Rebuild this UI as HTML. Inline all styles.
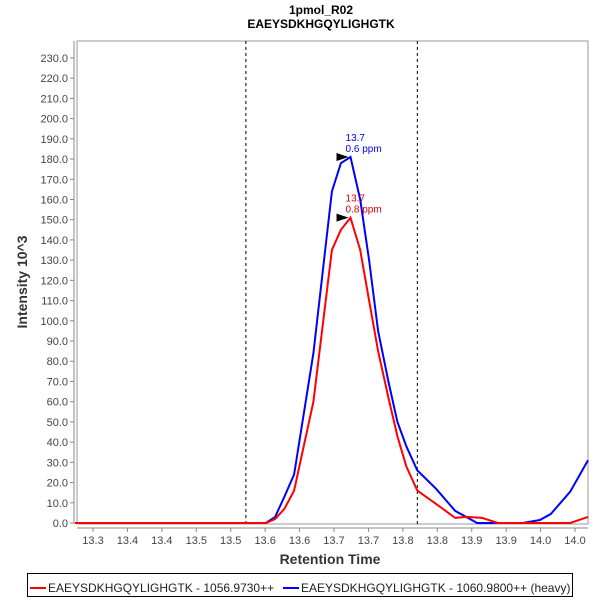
<!DOCTYPE html>
<html><head><meta charset="utf-8"><style>
body{margin:0;background:#fff;}
svg{display:block;font-family:"Liberation Sans",sans-serif;}
</style></head><body>
<svg id="chart" width="600" height="600">
<text x="321" y="14" text-anchor="middle" font-size="12" font-weight="bold">1pmol_R02</text>
<text x="321" y="28" text-anchor="middle" font-size="12" font-weight="bold">EAEYSDKHGQYLIGHGTK</text>
<rect x="77" y="41" width="511" height="483" fill="#fff" stroke="#999"/>
<line x1="74" y1="41" x2="74" y2="524" stroke="#888"/>
<line x1="77" y1="528" x2="588" y2="528" stroke="#888"/>
<g id="yticks"></g><g id="xticks"></g><g id="marks"></g>
<text x="330" y="564" text-anchor="middle" font-size="14" font-weight="bold" fill="#333">Retention Time</text>
<text transform="translate(27,282) rotate(-90)" text-anchor="middle" font-size="14" font-weight="bold" fill="#333">Intensity 10^3</text>
<g>
<rect x="27.5" y="573.5" width="545" height="23" fill="#fff" stroke="#000"/>
<g>
<line x1="30" y1="588" x2="46" y2="588" stroke="#f00" stroke-width="2"/>
<text x="48" y="592" font-size="12" fill="#222">EAEYSDKHGQYLIGHGTK - 1056.9730++</text></g>
<g>
<line x1="283" y1="588" x2="299" y2="588" stroke="#00f" stroke-width="2"/>
<text x="301" y="592" font-size="12" fill="#222">EAEYSDKHGQYLIGHGTK - 1060.9800++ (heavy)</text></g>
</g>
</svg>
<script>
const lightTimes=[13.274,13.551,13.5645,13.578,13.592,13.620,13.647,13.660,13.674,13.688,13.701,13.714,13.729,13.742,13.755,13.771,13.800,13.826,13.843,13.865,13.888,13.993,14.019];
const lightValues=[0,0,2,7,16,60,135,145,151,135,110,85,62,43,28,16,9,2.5,3,2.5,0,0,3];
const heavyTimes=[13.274,13.551,13.5645,13.578,13.592,13.620,13.647,13.660,13.674,13.688,13.701,13.714,13.729,13.742,13.755,13.771,13.798,13.826,13.858,13.887,13.924,13.949,13.965,13.993,14.019];
const heavyValues=[0,0,3,13,24,84,164,178,181,160,130,95,70,50,38,26,17,6,0,0,0,1.5,4.5,15.5,31];
const yTicks=[0,10,20,30,40,50,60,70,80,90,100,110,120,130,140,150,160,170,180,190,200,210,220,230];
const xTicks=[13.30,13.35,13.40,13.45,13.50,13.55,13.60,13.65,13.70,13.75,13.80,13.85,13.90,13.95,14.00];
const boundaries=[13.522,13.771];
const peakTimes=[13.674,13.674];
const peakValues=[151,181];
const peakPpm=["0.8 ppm","0.6 ppm"];
const NS="http://www.w3.org/2000/svg";
const xs=t=>93+(t-13.30)/0.05*34.43;
const ys=v=>523-v*2.022;
function mk(tag,attrs,parent){const e=document.createElementNS(NS,tag);for(const k in attrs)e.setAttribute(k,attrs[k]);parent.appendChild(e);return e;}
const yg=document.getElementById('yticks'),xg=document.getElementById('xticks'),mg=document.getElementById('marks');
yTicks.forEach(v=>{
  const l=mk('line',{x1:70,x2:74,y1:ys(v),y2:ys(v),stroke:'#888'},yg);
  
  
  const t=mk('text',{x:68,y:ys(v)+4,'text-anchor':'end','font-size':11,fill:'#444'},yg);
  t.textContent=v.toFixed(1);
  
  
});
xTicks.forEach(v=>{
  const l=mk('line',{x1:xs(v),x2:xs(v),y1:528,y2:532,stroke:'#888'},xg);
  
  
  const t=mk('text',{x:xs(v),y:544,'text-anchor':'middle','font-size':11,fill:'#444'},xg);
  t.textContent=(Math.round(v*10+1e-9)/10).toFixed(1);
  
  
});
boundaries.forEach(b=>{
  const l=mk('line',{x1:xs(b),x2:xs(b),y1:41,y2:524,stroke:'#000','stroke-dasharray':'3,3'},mg);
  
  
});
function series(times,vals,color,name){
  const d=times.map((t,i)=>`${Math.min(xs(t),588).toFixed(1)},${ys(vals[i]).toFixed(1)}`).join(' ');
  const p=mk('polyline',{points:d,fill:'none',stroke:color,'stroke-width':2},mg);
  
  
}
series(heavyTimes,heavyValues,'#00f','heavy-series-line');
series(lightTimes,lightValues,'#f00','light-series-line');
const colors=['#d00','#00f'];
peakTimes.forEach((t,i)=>{
  const x=xs(t),y=ys(peakValues[i]);
  const a=mk('polygon',{points:`${x-14},${y-4} ${x-2},${y} ${x-14},${y+4}`,fill:'#000'},mg);
  
  
  const t1=mk('text',{x:x-5,y:y-16,'font-size':10,fill:colors[i]},mg);
  t1.textContent=t.toFixed(1);
  
  
  const t2=mk('text',{x:x-5,y:y-5,'font-size':10,fill:colors[i]},mg);
  t2.textContent=peakPpm[i];
  
  
});
</script>
</body></html>
